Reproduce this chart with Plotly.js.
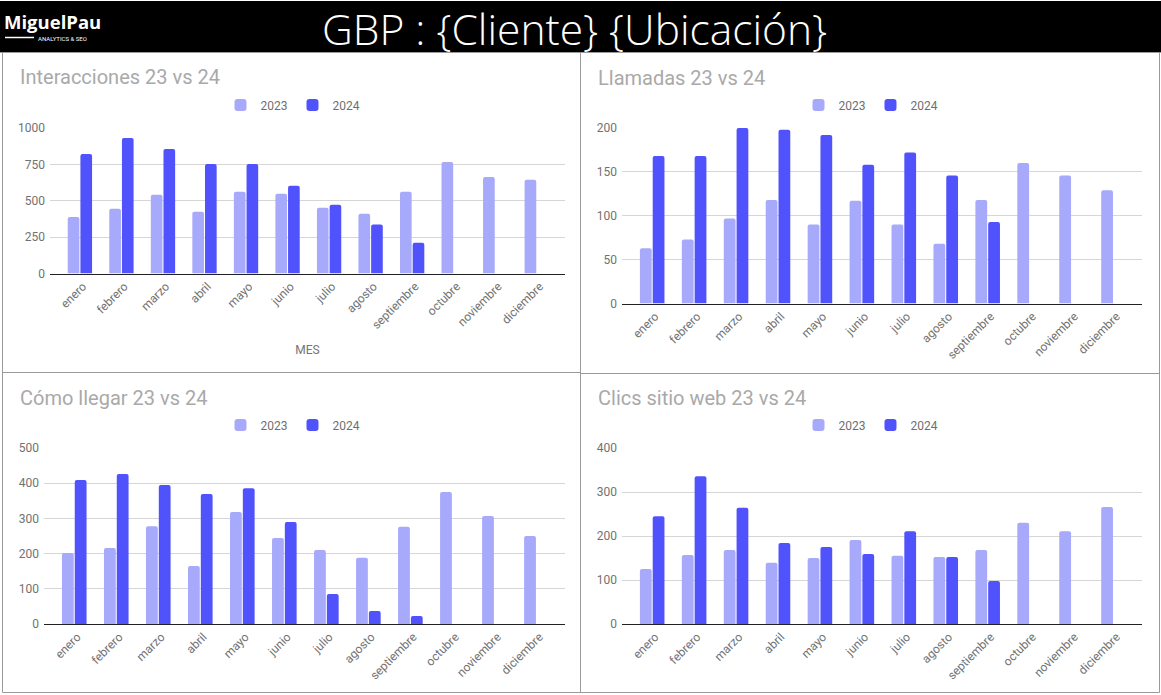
<!DOCTYPE html>
<html>
<head>
<meta charset="utf-8">
<script src="https://cdn.plot.ly/plotly-3.0.1.min.js"></script>
<style>html,body{margin:0;padding:0;background:#fff;}#chart{width:1161px;height:695px;}</style>
</head>
<body>
<div id="chart"></div>
<script>
// ---- data ----
const months = ['enero','febrero','marzo','abril','mayo','junio','julio','agosto','septiembre','octubre','noviembre','diciembre'];
const months2024 = months.slice(0, 9);
const seriesNames = ['2023', '2024'];
const chartTitles = ['Interacciones 23 vs 24', 'Llamadas 23 vs 24', 'Cómo llegar 23 vs 24', 'Clics sitio web 23 vs 24'];
const interacciones2023 = [388,445,541,425,562,548,452,411,562,767,664,644];
const interacciones2024 = [822,932,856,753,753,603,473,336,212];
const llamadas2023 = [63,73,97,118,90,117,90,68,118,160,146,129];
const llamadas2024 = [168,168,200,198,192,158,172,146,93];
const comoLlegar2023 = [202,216,278,165,318,244,210,188,276,375,307,250];
const comoLlegar2024 = [409,426,395,369,386,290,85,37,23];
const clics2023 = [125,157,168,139,150,191,155,152,168,230,211,266];
const clics2024 = [245,336,264,184,175,159,211,152,98];
const headerTitle = 'GBP : {Cliente} {Ubicación}';

// ---- layout helpers ----
const W = 1161, H = 695;
const px = x => x / W;
const py = y => 1 - y / H;
const C23 = '#a7a9fb', C24 = '#5053fc';
const FONT = 'Roboto, Arial, sans-serif';
const TICKC = '#727272';

const panels = [
  {d23: interacciones2023, d24: interacciones2024, x0: 50, x1: 565, yTop: 128, yBot: 273.5, max: 1000, dtick: 250, cx: 293, titleX: 18, titleY: 77, legY: 105, xtitle: 'MES'},
  {d23: llamadas2023, d24: llamadas2024, x0: 622, x1: 1142, yTop: 128, yBot: 303.5, max: 200, dtick: 50, cx: 871, titleX: 596, titleY: 78, legY: 105, xtitle: ''},
  {d23: comoLlegar2023, d24: comoLlegar2024, x0: 44, x1: 565, yTop: 448, yBot: 624, max: 500, dtick: 100, cx: 293, titleX: 18, titleY: 398, legY: 425, xtitle: ''},
  {d23: clics2023, d24: clics2024, x0: 622, x1: 1142, yTop: 448, yBot: 624, max: 400, dtick: 100, cx: 871, titleX: 596, titleY: 398, legY: 425, xtitle: ''}
];

const data = [];
const layout = {
  width: W, height: H,
  margin: {l: 0, r: 0, t: 0, b: 0},
  paper_bgcolor: '#ffffff', plot_bgcolor: '#ffffff',
  font: {family: FONT, color: '#666666', size: 12},
  barmode: 'group', bargap: 0.39, bargroupgap: 0.08,
  showlegend: true,
  annotations: [], shapes: []
};

panels.forEach((p, i) => {
  const n = i === 0 ? '' : String(i + 1);
  const xa = 'x' + n, ya = 'y' + n;
  const leg = 'legend' + n;
  data.push({type: 'bar', name: seriesNames[0], x: months, y: p.d23, xaxis: xa, yaxis: ya,
    marker: {color: C23, cornerradius: 2}, legend: leg, hoverinfo: 'skip'});
  data.push({type: 'bar', name: seriesNames[1], x: months2024, y: p.d24, xaxis: xa, yaxis: ya,
    marker: {color: C24, cornerradius: 2}, legend: leg, hoverinfo: 'skip'});
  layout['xaxis' + n] = {
    domain: [px(p.x0), px(p.x1)], anchor: ya, type: 'category',
    categoryorder: 'array', categoryarray: months,
    range: [-0.72, 11.68], tickangle: -45,
    showgrid: false, showline: true, linecolor: '#222222', linewidth: 1.2,
    ticks: '', ticklabelshift: 3,
    tickfont: {family: FONT, size: 12, color: TICKC},
    title: p.xtitle ? {text: p.xtitle, font: {family: FONT, size: 12, color: '#757575'}, standoff: 14} : {text: ''},
    fixedrange: true
  };
  layout['yaxis' + n] = {
    domain: [py(p.yBot), py(p.yTop)], anchor: xa,
    range: [0, p.max], dtick: p.dtick, tick0: 0,
    showgrid: true, gridcolor: '#d6d6d6', gridwidth: 1,
    zeroline: false, showline: false, ticks: '',
    ticklabelstandoff: 4,
    tickfont: {family: FONT, size: 12, color: TICKC},
    fixedrange: true
  };
  layout[leg] = {
    orientation: 'h', x: px(p.cx), xanchor: 'center', y: py(p.legY), yanchor: 'middle',
    font: {family: FONT, size: 12, color: '#6f6f6f'}, bgcolor: 'rgba(0,0,0,0)',
    itemwidth: 30, traceorder: 'normal'
  };
  layout.annotations.push({
    text: chartTitles[i], xref: 'paper', yref: 'paper', x: px(p.titleX), y: py(p.titleY),
    xanchor: 'left', yanchor: 'middle', showarrow: false,
    font: {family: FONT, size: 20, color: '#a9a9a9'}
  });
});

// header
layout.shapes.push({type: 'rect', xref: 'paper', yref: 'paper', x0: 0, x1: 1, y0: py(52), y1: py(1),
  fillcolor: '#000000', line: {width: 0}, layer: 'below'});
layout.annotations.push({
  text: headerTitle, xref: 'paper', yref: 'paper', x: px(574), y: py(28),
  xanchor: 'center', yanchor: 'middle', showarrow: false, borderpad: 0,
  font: {family: '"Open Sans", Lato, sans-serif', size: 42.5, color: '#ffffff', weight: 300}
});
layout.annotations.push({
  text: '<b>MiguelPau</b>', xref: 'paper', yref: 'paper', x: px(3), y: py(22),
  xanchor: 'left', yanchor: 'middle', showarrow: false, borderpad: 0,
  font: {family: '"Open Sans", Arial, sans-serif', size: 18.5, color: '#ffffff', weight: 800}
});
layout.annotations.push({
  text: 'ANALYTICS &amp; SEO', xref: 'paper', yref: 'paper', x: px(37), y: py(38.5),
  xanchor: 'left', yanchor: 'middle', showarrow: false, borderpad: 0,
  font: {family: 'Roboto, Arial, sans-serif', size: 6, color: '#ffffff'}
});
layout.shapes.push({type: 'line', xref: 'paper', yref: 'paper', x0: px(5), x1: px(34), y0: py(37.5), y1: py(37.5),
  line: {color: '#ffffff', width: 1.5}});

// panel borders
const BC = '#9a9a9a';
const borderLines = [
  [0, 52.5, W, 52.5],
  [2.5, 52, 2.5, 692.5],
  [580.5, 52, 580.5, 692.5],
  [1159.5, 52, 1159.5, 692.5],
  [2.5, 372.5, 580.5, 372.5],
  [580.5, 373.5, 1159.5, 373.5],
  [2.5, 692.5, 1159.5, 692.5]
];
borderLines.forEach(b => layout.shapes.push({type: 'line', xref: 'paper', yref: 'paper',
  x0: px(b[0]), y0: py(b[1]), x1: px(b[2]), y1: py(b[3]), line: {color: BC, width: 1}}));

Plotly.newPlot('chart', data, layout, {staticPlot: true, displayModeBar: false});
</script>
</body>
</html>
